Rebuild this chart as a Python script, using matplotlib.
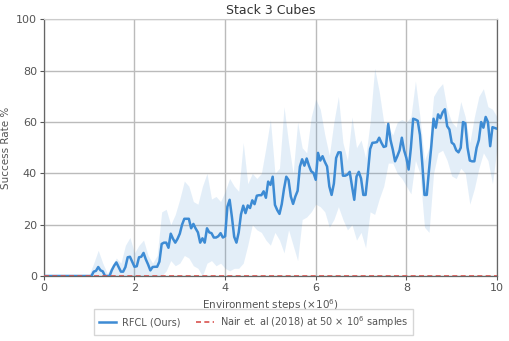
import numpy as np
import matplotlib
matplotlib.use("Agg")
import matplotlib.pyplot as plt

# Mean success rate (x step 0.05, from 0 to 10, in units of 1e6 steps)
steps = np.round(np.arange(0, 10.0001, 0.05), 2)
mean_rate = [
    0, 0, 0, 0, 0, 0, 0, 0, 0, 0, 0, 0, 0, 0, 0, 0, 0, 0, 0, 0, 0, 0,
    1.7, 2.0, 3.5, 2.2, 1.8, 0, 0, 0, 2.3, 4, 5.3, 3.5, 1.7, 1.7, 3.5, 7.3, 7.5, 5.5,
    3.6, 3.8, 7.3, 7.5, 9.0, 6.5, 4.5, 2.2, 3.5, 3.6, 3.6, 5.6, 12.5, 13, 13, 11, 16.5, 14.5, 13, 14.5,
    16.5, 20, 22.3, 22.3, 22.3, 18.6, 20.3, 18.5, 17, 13, 14.7, 13, 18.6, 17, 16.7, 15, 15, 15.5, 16.7, 15,
    15.5, 27, 29.7, 23, 15.3, 13, 17, 24, 27.4, 24.5, 27.5, 26.5, 29.5, 28, 31.3, 31.5, 31.5, 33, 30.5, 36.8,
    35.5, 38.7, 27.7, 25.7, 24.2, 28, 34, 38.7, 37.4, 31, 28.1, 31, 33.2, 42.6, 45.5, 43, 45.8, 43, 40.8, 40.2,
    37.5, 48, 45, 46.7, 44.5, 42.7, 34.9, 31.6, 36, 46, 48.2, 48.2, 39.1, 39.1, 39.5, 40.6, 35, 29.7, 38.8, 40.6,
    38, 31.6, 31.6, 40, 49.5, 51.9, 52, 52.2, 53.9, 51.9, 50.3, 50.6, 59.3, 53, 49.3, 44.7, 46.7, 49, 53.9, 49,
    46, 41.5, 50, 61.3, 61, 60.5, 55, 44, 31.6, 31.6, 41.4, 50.5, 61.3, 57.8, 63, 61.5, 63.8, 65, 58.4, 57.1,
    52, 51.3, 49, 48.2, 50, 60, 59.5, 50, 45, 44.7, 44.7, 50, 53, 60, 57.8, 62, 60, 50.6, 58, 57.7,
    57.4,
]

# Spread band (x step 0.1)
band_steps = np.round(np.arange(0, 10.0001, 0.1), 1)
band_upper = [
    0, 0, 0, 0, 0, 0, 0, 0, 0, 0,
    0.5, 5, 10, 5, 1, 4, 7, 5, 12, 15,
    9, 12, 14, 8, 5, 8, 25, 26, 20, 24,
    30, 37, 35, 29, 28, 35, 40, 30, 31, 29,
    33, 38, 35, 33, 52, 36, 40, 38, 40, 50,
    61, 40, 42, 66, 52, 40, 60, 50, 48, 62,
    69, 65, 55, 47, 60, 70, 52, 45, 62, 50,
    53, 46, 60, 81, 72, 60, 58, 55, 60, 61,
    60, 62, 76, 62, 45, 50, 70, 73, 75, 65,
    60, 58, 68, 62, 52, 62, 70, 73, 66, 65,
    62,
]
band_lower = [
    0, 0, 0, 0, 0, 0, 0, 0, 0, 0,
    0, 0, 0, 0, 0, 0, 0, 0, 0, 0,
    0, 0, 0, 0, 0, 0, 0, 2, 6, 4,
    5, 8, 7, 4, 3, 0, 5, 6, 4, 5,
    3, 2, 3, 3, 5, 12, 20, 18, 17, 14,
    12, 17, 14, 9, 18, 12, 6, 22, 23, 25,
    28, 27, 25, 19, 22, 27, 22, 18, 20, 14,
    17, 11, 25, 24, 30, 35, 44, 44, 40, 38,
    35, 32, 45, 40, 19, 17, 40, 48, 49, 45,
    39, 38, 42, 40, 28, 34, 42, 48, 45, 36,
    50,
]
baseline_value = 0.0

labels = ["RFCL (Ours)", "Nair et. al (2018) at 50 × 10$^6$ samples"]

blue = "#3d8bd4"
red = "#d9534f"
grey_txt = "#555555"

fig = plt.figure(figsize=(5.10, 3.41), dpi=100)
ax = fig.add_axes([0.086, 0.1906, 0.8885, 0.7524])

ax.fill_between(band_steps, band_lower, band_upper, color=blue, alpha=0.14, linewidth=0)
l1, = ax.plot(steps, mean_rate, color=blue, linewidth=1.8, label=labels[0], zorder=3)
l2 = ax.axhline(baseline_value, color=red, linestyle=(0, (3, 2)), linewidth=1.2,
                label=labels[1], zorder=4)

ax.set_xlim(0, 10)
ax.set_ylim(0, 100)
ax.set_xticks([0, 2, 4, 6, 8, 10])
ax.set_yticks([0, 20, 40, 60, 80, 100])
ax.grid(True, color="#bbbbbb", linewidth=1.0)
ax.set_axisbelow(True)
ax.tick_params(labelsize=8, colors=grey_txt, length=3, pad=2, direction="out")
for side in ["left", "bottom", "right"]:
    ax.spines[side].set_color("#666666")
    ax.spines[side].set_linewidth(0.9)
ax.spines["top"].set_color("#cccccc")

ax.set_title("Stack 3 Cubes", fontsize=9, color="#333333", pad=4)
ax.set_xlabel("Environment steps (×10$^6$)", fontsize=7.5, color=grey_txt, labelpad=3)
ax.set_ylabel("Success Rate %", fontsize=7.5, color=grey_txt)
ax.yaxis.set_label_coords(-0.072, 0.5)

fig.legend(handles=[l1, l2], labels=labels, loc="center", bbox_to_anchor=(0.497, 0.056),
           ncol=2, fontsize=7, frameon=True, fancybox=False, edgecolor="#cccccc",
           handlelength=1.8, handletextpad=0.6, columnspacing=1.6, borderpad=0.5,
           labelcolor=grey_txt)

fig.savefig("out.png", dpi=100)
